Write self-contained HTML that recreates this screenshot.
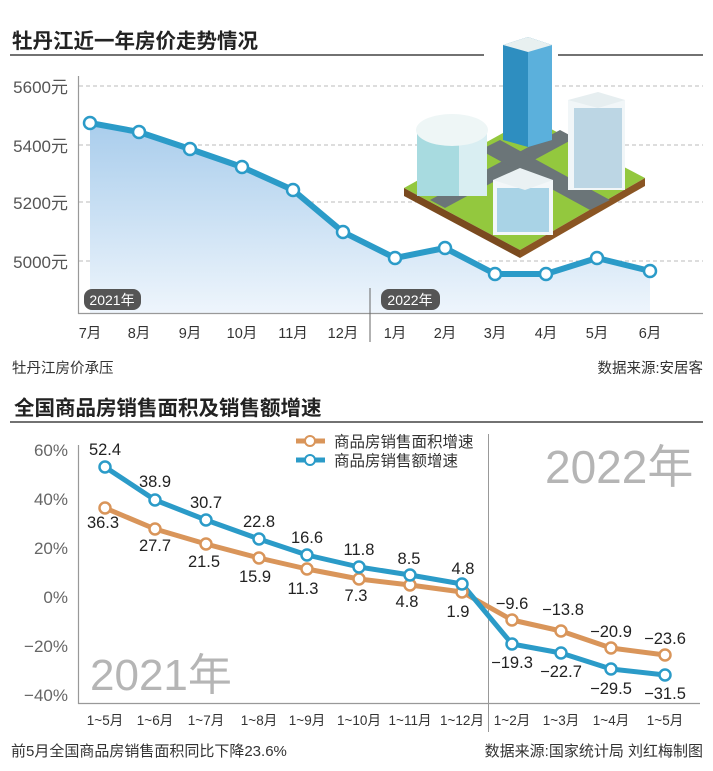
<!DOCTYPE html>
<html><head><meta charset="utf-8"><style>
body{margin:0;background:#fff}
svg{display:block;font-family:"Liberation Sans","Noto Sans CJK SC",sans-serif}
</style></head><body>
<svg width="713" height="771" viewBox="0 0 713 771">
<defs>
<linearGradient id="g" x1="0" y1="0" x2="0" y2="1"><stop offset="0" stop-color="#a9cdec"/><stop offset="1" stop-color="#eef5fc"/></linearGradient>
</defs>
<text x="12" y="48" font-size="20.5" font-weight="bold" fill="#222">牡丹江近一年房价走势情况</text>
<line x1="10" y1="55" x2="484" y2="55" stroke="#444" stroke-width="1.5"/>
<line x1="558" y1="55" x2="703" y2="55" stroke="#444" stroke-width="1.5"/>
<g stroke="#bbb" stroke-dasharray="4,3" stroke-width="1">
<line x1="79" y1="86" x2="703" y2="86"/><line x1="79" y1="145" x2="703" y2="145"/>
<line x1="79" y1="202" x2="703" y2="202"/><line x1="79" y1="261" x2="703" y2="261"/>
</g>
<g font-size="17" fill="#555" text-anchor="end">
<text x="68" y="93">5600元</text><text x="68" y="152">5400元</text><text x="68" y="209">5200元</text><text x="68" y="268">5000元</text>
</g>
<polygon fill="url(#g)" points="90,123 139,132 190,149 242,167 293,190 343,232 395,258 445,248 495,274 546,274 597,258 650,271 650,313 90,313"/>
<g>
<polygon points="404,188 530,118 645,178 520,250" fill="#93c83e"/>
<polygon points="404,188 520,250 520,258 404,196" fill="#7a4a1f"/>
<polygon points="520,250 645,178 645,186 520,258" fill="#8a5523"/>
<polygon points="430,200 560,130 575,138 445,208" fill="#6b7578"/>
<polygon points="480,150 500,140 610,200 590,210" fill="#6b7578"/>
<rect x="417" y="128" width="70" height="68" fill="#d9eef2"/>
<rect x="417" y="128" width="42" height="68" fill="#a8dbe0"/>
<ellipse cx="452" cy="130" rx="36" ry="16" fill="#eef6f6"/>
<polygon points="503,45 528,37 552,45 552,140 528,147 503,140" fill="#2e8ec0"/>
<polygon points="528,48 552,45 552,140 528,147" fill="#5bb0dc"/>
<polygon points="503,45 528,37 552,45 528,52" fill="#e8f0f0"/>
<rect x="568" y="100" width="57" height="90" fill="#f1f6f8"/>
<rect x="574" y="108" width="48" height="80" fill="#bcd6e4"/>
<polygon points="568,100 598,92 625,100 598,108" fill="#e6eef0"/>
<rect x="493" y="180" width="60" height="55" fill="#f3f7f9"/>
<rect x="497" y="188" width="52" height="44" fill="#a9d3e6"/>
<polygon points="493,180 520,168 553,180 525,190" fill="#eaf1f3"/>
</g>
<polyline fill="none" stroke="#2b9bc8" stroke-width="6" stroke-linejoin="round" points="90,123 139,132 190,149 242,167 293,190 343,232 395,258 445,248 495,274 546,274 597,258 650,271"/>
<g fill="#fff" stroke="#2b9bc8" stroke-width="2.5">
<circle cx="90" cy="123" r="6"/><circle cx="139" cy="132" r="6"/><circle cx="190" cy="149" r="6"/><circle cx="242" cy="167" r="6"/><circle cx="293" cy="190" r="6"/><circle cx="343" cy="232" r="6"/><circle cx="395" cy="258" r="6"/><circle cx="445" cy="248" r="6"/><circle cx="495" cy="274" r="6"/><circle cx="546" cy="274" r="6"/><circle cx="597" cy="258" r="6"/><circle cx="650" cy="271" r="6"/>
</g>
<line x1="78.5" y1="76" x2="78.5" y2="314" stroke="#999" stroke-width="1.2"/>
<line x1="78" y1="313.5" x2="703" y2="313.5" stroke="#999" stroke-width="1.2"/>
<line x1="370" y1="288" x2="370" y2="342" stroke="#666" stroke-width="1"/>
<rect x="84" y="289" width="57" height="21" rx="8" fill="#555"/>
<text x="112" y="305" font-size="14" fill="#fff" text-anchor="middle">2021年</text>
<rect x="381" y="289" width="59" height="21" rx="8" fill="#555"/>
<text x="410" y="305" font-size="14" fill="#fff" text-anchor="middle">2022年</text>
<g font-size="14.5" fill="#333" text-anchor="middle">
<text x="90" y="338">7月</text><text x="139" y="338">8月</text><text x="190" y="338">9月</text><text x="242" y="338">10月</text><text x="293" y="338">11月</text><text x="343" y="338">12月</text><text x="395" y="338">1月</text><text x="445" y="338">2月</text><text x="495" y="338">3月</text><text x="546" y="338">4月</text><text x="597" y="338">5月</text><text x="650" y="338">6月</text>
</g>
<text x="12" y="373" font-size="14.5" fill="#333">牡丹江房价承压</text>
<text x="703" y="373" font-size="14.5" fill="#333" text-anchor="end">数据来源:安居客</text>

<text x="14" y="415" font-size="20.5" font-weight="bold" fill="#222">全国商品房销售面积及销售额增速</text>
<line x1="10" y1="422" x2="703" y2="422" stroke="#444" stroke-width="1.5"/>
<g font-size="17" fill="#666" text-anchor="end">
<text x="68" y="456">60%</text><text x="68" y="505">40%</text><text x="68" y="554">20%</text><text x="68" y="603">0%</text><text x="68" y="652">−20%</text><text x="68" y="701">−40%</text>
</g>
<line x1="78.5" y1="445" x2="78.5" y2="704" stroke="#999" stroke-width="1.2"/>
<line x1="78" y1="703.5" x2="700" y2="703.5" stroke="#999" stroke-width="1.2"/>
<line x1="488.5" y1="434" x2="488.5" y2="732" stroke="#999" stroke-width="1"/>
<text x="545" y="483" font-size="46" fill="#b5b5b5">2022年</text>
<text x="90" y="690" font-size="44" fill="#b5b5b5">2021年</text>
<line x1="296" y1="441" x2="325" y2="441" stroke="#d9955a" stroke-width="5"/><circle cx="310" cy="441" r="5" fill="#fff" stroke="#d9955a" stroke-width="2"/>
<line x1="296" y1="460" x2="325" y2="460" stroke="#2b9bc8" stroke-width="5"/><circle cx="310" cy="460" r="5" fill="#fff" stroke="#2b9bc8" stroke-width="2"/>
<text x="334" y="447" font-size="15.5" fill="#333">商品房销售面积增速</text>
<text x="334" y="466" font-size="15.5" fill="#333">商品房销售额增速</text>
<polyline fill="none" stroke="#d9955a" stroke-width="5" stroke-linejoin="round" points="105,508 155,529 206,544 259,558 307,569 359,579 410,585 462,592 512,620 561,631 611,648 665,655"/>
<polyline fill="none" stroke="#2b9bc8" stroke-width="5" stroke-linejoin="round" points="105,467 155,500 206,520 259,539 307,555 359,567 410,575 462,584 512,644 561,653 611,669 665,675"/>
<g fill="#fff" stroke="#d9955a" stroke-width="2.5">
<circle cx="105" cy="508" r="5.5"/><circle cx="155" cy="529" r="5.5"/><circle cx="206" cy="544" r="5.5"/><circle cx="259" cy="558" r="5.5"/><circle cx="307" cy="569" r="5.5"/><circle cx="359" cy="579" r="5.5"/><circle cx="410" cy="585" r="5.5"/><circle cx="462" cy="592" r="5.5"/><circle cx="512" cy="620" r="5.5"/><circle cx="561" cy="631" r="5.5"/><circle cx="611" cy="648" r="5.5"/><circle cx="665" cy="655" r="5.5"/>
</g>
<g fill="#fff" stroke="#2b9bc8" stroke-width="2.5">
<circle cx="105" cy="467" r="5.5"/><circle cx="155" cy="500" r="5.5"/><circle cx="206" cy="520" r="5.5"/><circle cx="259" cy="539" r="5.5"/><circle cx="307" cy="555" r="5.5"/><circle cx="359" cy="567" r="5.5"/><circle cx="410" cy="575" r="5.5"/><circle cx="462" cy="584" r="5.5"/><circle cx="512" cy="644" r="5.5"/><circle cx="561" cy="653" r="5.5"/><circle cx="611" cy="669" r="5.5"/><circle cx="665" cy="675" r="5.5"/>
</g>
<g font-size="16.5" fill="#222" text-anchor="middle">
<text x="105" y="455">52.4</text><text x="155" y="487">38.9</text><text x="206" y="508">30.7</text><text x="259" y="527">22.8</text><text x="307" y="543">16.6</text><text x="359" y="555">11.8</text><text x="409" y="564">8.5</text><text x="463" y="574">4.8</text>
<text x="103" y="528">36.3</text><text x="155" y="551">27.7</text><text x="204" y="567">21.5</text><text x="255" y="582">15.9</text><text x="303" y="594">11.3</text><text x="356" y="601">7.3</text><text x="407" y="607">4.8</text><text x="458" y="617">1.9</text>
<text x="512" y="609">−9.6</text><text x="563" y="615">−13.8</text><text x="611" y="637">−20.9</text><text x="665" y="644">−23.6</text>
<text x="512" y="668">−19.3</text><text x="561" y="677">−22.7</text><text x="611" y="694">−29.5</text><text x="665" y="699">−31.5</text>
</g>
<g font-size="13.5" fill="#333" text-anchor="middle">
<text x="105" y="725">1~5月</text><text x="155" y="725">1~6月</text><text x="206" y="725">1~7月</text><text x="259" y="725">1~8月</text><text x="307" y="725">1~9月</text><text x="359" y="725">1~10月</text><text x="410" y="725">1~11月</text><text x="462" y="725">1~12月</text><text x="512" y="725">1~2月</text><text x="561" y="725">1~3月</text><text x="611" y="725">1~4月</text><text x="665" y="725">1~5月</text>
</g>
<text x="11" y="756" font-size="15" fill="#333">前5月全国商品房销售面积同比下降23.6%</text>
<text x="703" y="756" font-size="15" fill="#333" text-anchor="end">数据来源:国家统计局 刘红梅制图</text>
</svg>
</body></html>
